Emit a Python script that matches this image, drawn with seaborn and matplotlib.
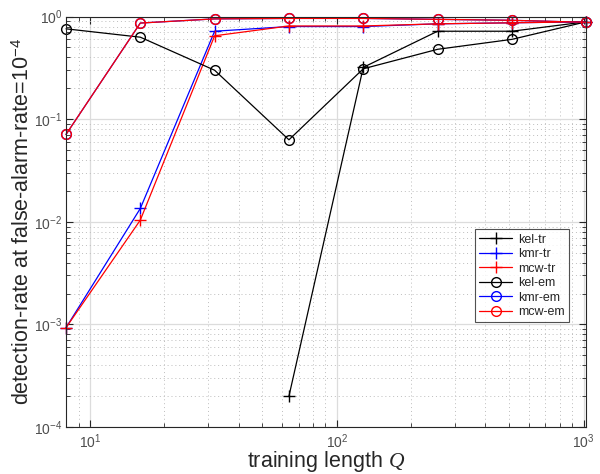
import numpy as np
import pandas as pd
import matplotlib
matplotlib.use("Agg")
import matplotlib.pyplot as plt
import seaborn as sns

# training lengths Q
train_len = [8, 16, 32, 64, 128, 256, 512, 1024]

# detection rate at false-alarm-rate 1e-4 (NaN = zero, not shown on log axis)
kel_tr = [np.nan, np.nan, np.nan, 2.0e-4, 0.32, 0.72, 0.72, 0.89]
kmr_tr = [9.3e-4, 0.0135, 0.72, 0.80, 0.80, 0.85, 0.87, 0.89]
mcw_tr = [9.3e-4, 0.0104, 0.65, 0.81, 0.81, 0.85, 0.87, 0.89]
kel_em = [0.76, 0.63, 0.30, 0.063, 0.31, 0.48, 0.60, 0.89]
kmr_em = [0.071, 0.865, 0.95, 0.96, 0.96, 0.94, 0.92, 0.88]
mcw_em = [0.071, 0.865, 0.95, 0.96, 0.96, 0.94, 0.92, 0.88]

series = [
    ("kel-tr", kel_tr, "black", "+"),
    ("kmr-tr", kmr_tr, "blue", "+"),
    ("mcw-tr", mcw_tr, "red", "+"),
    ("kel-em", kel_em, "black", "o"),
    ("kmr-em", kmr_em, "blue", "o"),
    ("mcw-em", mcw_em, "red", "o"),
]

sns.set_style("ticks")
plt.rcParams["font.family"] = ["Liberation Sans", "DejaVu Sans"]
plt.rcParams["mathtext.fontset"] = "custom"
plt.rcParams["mathtext.rm"] = "Liberation Sans"
plt.rcParams["mathtext.it"] = "Liberation Serif:italic"

fig = plt.figure(figsize=(6, 4.74), dpi=100)
ax = fig.add_axes([0.11, 0.099, 0.867, 0.866])

for name, vals, col, mk in series:
    df = pd.DataFrame({"Q": train_len, "rate": vals}).dropna()
    if mk == "o":
        sns.lineplot(data=df, x="Q", y="rate", ax=ax, color=col, label=name,
                     marker="o", markersize=7, markerfacecolor="none",
                     markeredgecolor=col, markeredgewidth=1.0, linewidth=0.9,
                     clip_on=False)
    else:
        sns.lineplot(data=df, x="Q", y="rate", ax=ax, color=col, label=name,
                     marker="+", markersize=8.5, markeredgewidth=1.0,
                     markeredgecolor=col, linewidth=0.9, clip_on=False)

ax.set_xscale("log")
ax.set_yscale("log")
ax.set_xlim(8, 1024)
ax.set_ylim(1e-4, 1)

ax.grid(True, which="major", color="#dcdcdc", linewidth=0.9, linestyle="-")
ax.grid(True, which="minor", color="#bdbdbd", linewidth=0.7, linestyle=(0, (1, 3)))
ax.set_axisbelow(True)

for sp in ax.spines.values():
    sp.set_visible(True)
    sp.set_color("#262626")
    sp.set_linewidth(0.8)

ax.tick_params(which="both", direction="in", top=True, right=True,
               colors="#262626", labelcolor="#4d4d4d", labelsize=10)
ax.tick_params(which="major", length=5)
ax.tick_params(which="minor", length=3)
ax.tick_params(axis="y", which="both", pad=2.5)

ax.set_xlabel("training length $Q$", fontsize=15.5, color="#262626", labelpad=-1)
ax.set_ylabel("detection-rate at false-alarm-rate=10$^{-4}$", fontsize=15.5,
              color="#262626", labelpad=0)

leg = ax.legend(loc="upper right", bbox_to_anchor=(0.967, 0.482), fontsize=9,
                frameon=True, fancybox=False, edgecolor="#262626",
                handlelength=2.6, handletextpad=0.5, borderpad=0.35,
                labelspacing=0.2, borderaxespad=0)
leg.get_frame().set_linewidth(0.8)

fig.savefig("out.png", dpi=100)
